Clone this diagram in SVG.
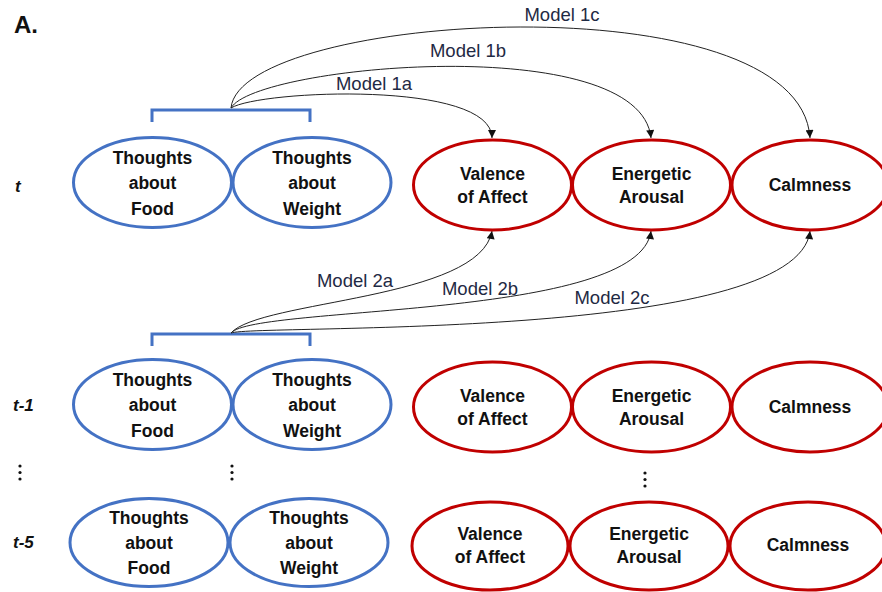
<svg xmlns="http://www.w3.org/2000/svg" width="882" height="592" viewBox="0 0 882 592">
  <style>
    .bg { fill: #ffffff; }
    .thought { fill: #ffffff; stroke: #4472C4; stroke-width: 3; }
    .affect { fill: #ffffff; stroke: #C00000; stroke-width: 3; }
    .bracket { fill: none; stroke: #4472C4; stroke-width: 3; }
    .node-text { font-family: "Liberation Sans", Arial, sans-serif; font-weight: bold; font-size: 17.5px; fill: #111111; text-anchor: middle; }
    .time { font-family: "Liberation Sans", Arial, sans-serif; font-weight: bold; font-style: italic; font-size: 17px; fill: #111111; }
    .model { font-family: "Liberation Sans", Arial, sans-serif; font-size: 18.5px; fill: #1f2a44; text-anchor: middle; }
    .path { fill: none; stroke: #222222; stroke-width: 1; marker-end: url(#arrow); }
    .dot { fill: #111111; }
  </style>
  <defs>
    <marker id="arrow" viewBox="0 0 10 10" refX="10" refY="5" markerWidth="9" markerHeight="8" markerUnits="userSpaceOnUse" orient="auto">
      <path d="M0,0 L10,5 L0,10 z" fill="#111111"/>
    </marker>
  </defs>
  <rect class="bg" x="0" y="0" width="882" height="592"/>

  <text x="14" y="33" font-family="Liberation Sans, Arial, sans-serif" font-weight="bold" font-size="24" fill="#111111">A.</text>

  <!-- time labels -->
  <text class="time" x="15" y="192">t</text>
  <text class="time" x="13" y="411">t-1</text>
  <text class="time" x="13" y="548">t-5</text>

  <!-- brackets grouping the two thought nodes -->
  <path class="bracket" d="M152,122 V110 H310 V122"/>
  <path class="bracket" d="M152,346 V334 H310 V346"/>

  <!-- connectors -->
  <g id="connectors">
    <path class="path" d="M231,108 C260,90 492,80 492,138"/>
    <path class="path" d="M231,108 C255,65 640,30 651,138"/>
    <path class="path" d="M231,108 C240,12 800,-22 810,138"/>
    <path class="path" d="M231,333 C260,300 480,300 492,231"/>
    <path class="path" d="M231,333 C255,305 640,320 651,231"/>
    <path class="path" d="M231,333 C255,324 798,342 810,231"/>
  </g>

  <!-- connector labels -->
  <text class="model" x="562" y="21">Model 1c</text>
  <text class="model" x="468" y="57">Model 1b</text>
  <text class="model" x="374" y="90">Model 1a</text>
  <text class="model" x="355" y="287">Model 2a</text>
  <text class="model" x="480" y="295">Model 2b</text>
  <text class="model" x="612" y="304">Model 2c</text>

  <!-- row t -->
  <g id="food-t">
    <ellipse class="thought" cx="152.5" cy="182.5" rx="79" ry="45"/>
    <text class="node-text" x="152.5" y="164">Thoughts</text>
    <text class="node-text" x="152.5" y="189">about</text>
    <text class="node-text" x="152.5" y="215">Food</text>
  </g>
  <g id="weight-t">
    <ellipse class="thought" cx="312" cy="182.5" rx="79" ry="45"/>
    <text class="node-text" x="312" y="164">Thoughts</text>
    <text class="node-text" x="312" y="189">about</text>
    <text class="node-text" x="312" y="215">Weight</text>
  </g>
  <g id="valence-t">
    <ellipse class="affect" cx="492.5" cy="185" rx="79" ry="45"/>
    <text class="node-text" x="492.5" y="180">Valence</text>
    <text class="node-text" x="492.5" y="203">of Affect</text>
  </g>
  <g id="arousal-t">
    <ellipse class="affect" cx="651.5" cy="185" rx="79" ry="45"/>
    <text class="node-text" x="651.5" y="180">Energetic</text>
    <text class="node-text" x="651.5" y="203">Arousal</text>
  </g>
  <g id="calmness-t">
    <ellipse class="affect" cx="810" cy="185" rx="78" ry="45"/>
    <text class="node-text" x="810" y="191">Calmness</text>
  </g>

  <!-- row t-1 -->
  <g id="food-t1">
    <ellipse class="thought" cx="152.5" cy="404.5" rx="79" ry="45"/>
    <text class="node-text" x="152.5" y="386">Thoughts</text>
    <text class="node-text" x="152.5" y="411">about</text>
    <text class="node-text" x="152.5" y="437">Food</text>
  </g>
  <g id="weight-t1">
    <ellipse class="thought" cx="312" cy="404.5" rx="79" ry="45"/>
    <text class="node-text" x="312" y="386">Thoughts</text>
    <text class="node-text" x="312" y="411">about</text>
    <text class="node-text" x="312" y="437">Weight</text>
  </g>
  <g id="valence-t1">
    <ellipse class="affect" cx="492.5" cy="407" rx="79" ry="45"/>
    <text class="node-text" x="492.5" y="402">Valence</text>
    <text class="node-text" x="492.5" y="425">of Affect</text>
  </g>
  <g id="arousal-t1">
    <ellipse class="affect" cx="651.5" cy="407" rx="79" ry="45"/>
    <text class="node-text" x="651.5" y="402">Energetic</text>
    <text class="node-text" x="651.5" y="425">Arousal</text>
  </g>
  <g id="calmness-t1">
    <ellipse class="affect" cx="810" cy="407" rx="78" ry="45"/>
    <text class="node-text" x="810" y="413">Calmness</text>
  </g>

  <!-- ellipsis marks between rows -->
  <circle class="dot" cx="20" cy="466" r="1.6"/>
  <circle class="dot" cx="20" cy="472.5" r="1.6"/>
  <circle class="dot" cx="20" cy="479" r="1.6"/>
  <circle class="dot" cx="232" cy="466" r="1.6"/>
  <circle class="dot" cx="232" cy="472.5" r="1.6"/>
  <circle class="dot" cx="232" cy="479" r="1.6"/>
  <circle class="dot" cx="645" cy="473" r="1.6"/>
  <circle class="dot" cx="645" cy="479.5" r="1.6"/>
  <circle class="dot" cx="645" cy="486" r="1.6"/>

  <!-- row t-5 -->
  <g id="food-t5">
    <ellipse class="thought" cx="149" cy="542.5" rx="79" ry="44"/>
    <text class="node-text" x="149" y="524">Thoughts</text>
    <text class="node-text" x="149" y="549">about</text>
    <text class="node-text" x="149" y="574">Food</text>
  </g>
  <g id="weight-t5">
    <ellipse class="thought" cx="309" cy="542.5" rx="79" ry="44"/>
    <text class="node-text" x="309" y="524">Thoughts</text>
    <text class="node-text" x="309" y="549">about</text>
    <text class="node-text" x="309" y="574">Weight</text>
  </g>
  <g id="valence-t5">
    <ellipse class="affect" cx="490" cy="546" rx="78" ry="44"/>
    <text class="node-text" x="490" y="540">Valence</text>
    <text class="node-text" x="490" y="563">of Affect</text>
  </g>
  <g id="arousal-t5">
    <ellipse class="affect" cx="649" cy="546" rx="79" ry="44"/>
    <text class="node-text" x="649" y="540">Energetic</text>
    <text class="node-text" x="649" y="563">Arousal</text>
  </g>
  <g id="calmness-t5">
    <ellipse class="affect" cx="808" cy="546" rx="78" ry="44"/>
    <text class="node-text" x="808" y="551">Calmness</text>
  </g>
</svg>
